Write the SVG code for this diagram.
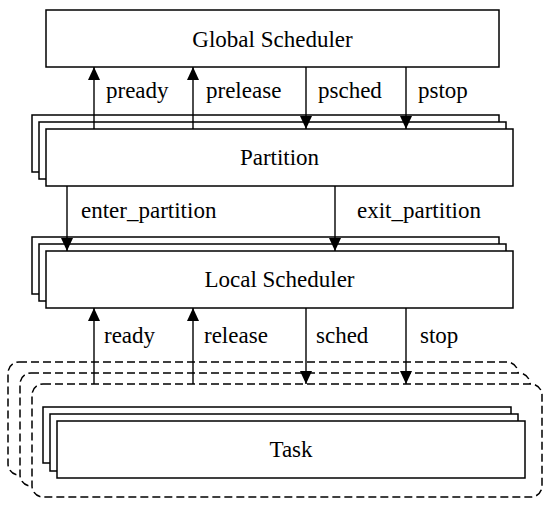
<svg xmlns="http://www.w3.org/2000/svg" width="550" height="507" viewBox="0 0 550 507">
<style>
.box{fill:#fff;stroke:#000;stroke-width:1.5}
.dash{fill:#fff;stroke:#000;stroke-width:1.5;stroke-dasharray:8 4}
.t{font-family:"Liberation Serif",Tinos,"Times New Roman","DejaVu Serif",serif;font-size:23px;fill:#000}
.c{text-anchor:middle}
</style>
<defs>
<marker id="ahd" markerUnits="userSpaceOnUse" markerWidth="12" markerHeight="13" viewBox="0 0 12 13" refX="6" refY="13" orient="0">
<path d="M0,0 L12,0 L6,13 Z" fill="#000"/>
</marker>
<marker id="ahu" markerUnits="userSpaceOnUse" markerWidth="12" markerHeight="13" viewBox="0 0 12 13" refX="6" refY="0" orient="0">
<path d="M0,13 L12,13 L6,0 Z" fill="#000"/>
</marker>
</defs>
<g id="global-scheduler">
<rect class="box" x="46" y="10" width="453" height="57"/>
<text class="t c" x="272.5" y="47">Global Scheduler</text>
</g>
<g id="partition">
<rect class="box" x="32" y="115" width="467" height="57"/>
<rect class="box" x="39" y="122" width="467" height="57"/>
<rect class="box" x="46" y="129" width="467" height="57"/>
<text class="t c" x="279.5" y="165">Partition</text>
</g>
<g id="local-scheduler">
<rect class="box" x="32" y="237" width="467" height="57"/>
<rect class="box" x="39" y="244" width="467" height="57"/>
<rect class="box" x="46" y="251" width="467" height="57"/>
<text class="t c" x="279.5" y="287">Local Scheduler</text>
</g>
<g id="task-group">
<rect class="dash" x="8" y="362" width="510" height="113" rx="11"/>
<rect class="dash" x="20" y="373" width="510" height="113" rx="11"/>
<rect class="dash" x="32" y="384" width="510" height="113" rx="11"/>
</g>
<g id="task">
<rect class="box" x="43" y="407" width="468" height="56"/>
<rect class="box" x="50" y="414" width="468" height="57"/>
<rect class="box" x="57" y="421" width="468" height="57"/>
<text class="t c" x="291" y="457">Task</text>
</g>
<g id="connectors">
<line x1="94" y1="129" x2="94" y2="67" stroke="#000" stroke-width="1.4" marker-end="url(#ahu)"/>
<line x1="193" y1="129" x2="193" y2="67" stroke="#000" stroke-width="1.4" marker-end="url(#ahu)"/>
<line x1="306" y1="67" x2="306" y2="129" stroke="#000" stroke-width="1.4" marker-end="url(#ahd)"/>
<line x1="406" y1="67" x2="406" y2="129" stroke="#000" stroke-width="1.4" marker-end="url(#ahd)"/>
<line x1="67" y1="186" x2="67" y2="251" stroke="#000" stroke-width="1.4" marker-end="url(#ahd)"/>
<line x1="335" y1="186" x2="335" y2="251" stroke="#000" stroke-width="1.4" marker-end="url(#ahd)"/>
<line x1="94" y1="384" x2="94" y2="308" stroke="#000" stroke-width="1.4" marker-end="url(#ahu)"/>
<line x1="193" y1="384" x2="193" y2="308" stroke="#000" stroke-width="1.4" marker-end="url(#ahu)"/>
<line x1="306" y1="308" x2="306" y2="384" stroke="#000" stroke-width="1.4" marker-end="url(#ahd)"/>
<line x1="406" y1="308" x2="406" y2="384" stroke="#000" stroke-width="1.4" marker-end="url(#ahd)"/>
<text class="t" x="106" y="98">pready</text>
<text class="t" x="206" y="98">prelease</text>
<text class="t" x="318" y="98">psched</text>
<text class="t" x="418" y="98">pstop</text>
<text class="t" x="81" y="218">enter_partition</text>
<text class="t" x="357" y="218">exit_partition</text>
<text class="t" x="104" y="343">ready</text>
<text class="t" x="204" y="343">release</text>
<text class="t" x="316" y="343">sched</text>
<text class="t" x="420" y="343">stop</text>
</g>
</svg>
